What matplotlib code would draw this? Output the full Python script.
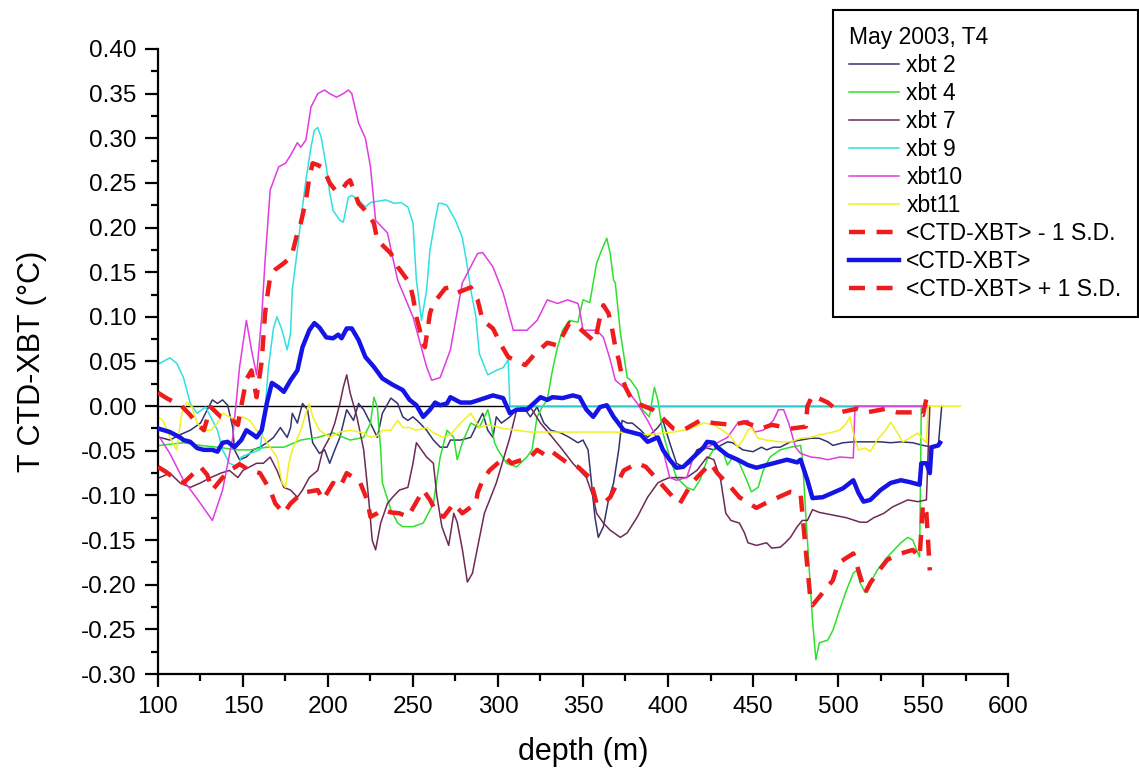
import numpy as np
import matplotlib
matplotlib.use("Agg")
import matplotlib.pyplot as plt
from matplotlib.ticker import MultipleLocator, FormatStrFormatter

plt.rcParams['font.family'] = ['Liberation Sans', 'DejaVu Sans']

# depth (m) / temperature difference (degC)
xbt2_x = [101, 107, 113, 119, 125, 129, 132, 135, 138, 141,
          144, 145, 148, 152, 156, 160, 164, 168, 172, 176,
          178, 179, 182, 185, 188, 191, 195, 198, 201, 204,
          207, 211, 215, 218, 221, 225, 229, 232, 237, 241,
          244, 247, 250, 254, 258, 262, 266, 270, 272, 278,
          284, 288, 291, 294, 297, 299, 302, 307, 311, 315,
          319, 323, 327, 331, 337, 342, 347, 350, 353, 355,
          357, 359, 362, 365, 368, 371, 373, 376, 379, 384,
          388, 394, 397, 401, 405, 409, 413, 417, 421, 427,
          431, 435, 438, 444, 450, 455, 458, 462, 466, 472,
          478, 484, 489, 494, 497, 503, 509, 517, 525, 531,
          537, 544, 550, 556, 559, 561]
xbt2_y = [-0.035, -0.038, -0.032, -0.027, -0.019, -0.004, 0.007, 0.003, 0.007, 0.001,
          -0.024, -0.049, -0.060, -0.057, -0.049, -0.046, -0.041, -0.035, -0.024, -0.035,
          -0.024, -0.008, -0.019, 0.003, -0.004, -0.041, -0.053, -0.049, -0.064, -0.049,
          -0.035, -0.004, -0.016, 0.003, -0.004, -0.019, -0.035, -0.008, 0.009, 0.003,
          -0.012, -0.016, -0.012, -0.019, -0.027, -0.038, -0.046, -0.046, -0.038, -0.038,
          -0.035, -0.019, -0.008, -0.027, -0.035, -0.012, -0.019, -0.012, -0.004, -0.001,
          -0.012, -0.001, -0.019, -0.027, -0.030, -0.035, -0.041, -0.038, -0.049, -0.086,
          -0.124, -0.147, -0.135, -0.105, -0.086, -0.049, -0.016, -0.019, -0.019, -0.027,
          -0.035, -0.024, -0.016, -0.041, -0.064, -0.068, -0.064, -0.049, -0.046, -0.049,
          -0.044, -0.040, -0.041, -0.049, -0.051, -0.046, -0.049, -0.046, -0.046, -0.040,
          -0.038, -0.036, -0.036, -0.040, -0.044, -0.041, -0.040, -0.040, -0.040, -0.041,
          -0.040, -0.041, -0.044, -0.046, -0.044, 0.0]

xbt4_x = [101, 115, 125, 135, 147, 154, 164, 174, 184, 194,
          203, 213, 221, 225, 227, 229, 231, 232, 237, 241,
          244, 250, 256, 262, 266, 270, 274, 276, 279, 284,
          289, 294, 295, 298, 300, 305, 311, 317, 320, 323,
          326, 329, 332, 335, 338, 342, 347, 350, 354, 356,
          358, 361, 364, 366, 368, 369, 372, 376, 378, 382,
          385, 389, 392, 394, 397, 401, 405, 411, 415, 419,
          423, 428, 432, 435, 438, 442, 447, 449, 453, 456,
          460, 466, 472, 478, 479, 481, 485, 487, 489, 494,
          497, 501, 505, 509, 511, 513, 516, 519, 523, 529,
          537, 541, 544, 547, 548, 549, 553]
xbt4_y = [-0.044, -0.041, -0.044, -0.046, -0.049, -0.049, -0.046, -0.046, -0.038, -0.035,
          -0.030, -0.038, -0.035, -0.019, 0.010, -0.001, -0.049, -0.086, -0.116, -0.131,
          -0.135, -0.135, -0.131, -0.109, -0.057, -0.027, -0.035, -0.060, -0.041, -0.019,
          -0.024, -0.004, -0.012, -0.041, -0.049, -0.064, -0.068, -0.057, -0.049, -0.012,
          -0.001, 0.007, 0.040, 0.066, 0.085, 0.096, 0.094, 0.119, 0.116, 0.138,
          0.160, 0.175, 0.188, 0.171, 0.141, 0.138, 0.082, 0.032, 0.029, 0.018,
          -0.004, -0.012, 0.021, 0.007, -0.030, -0.057, -0.080, -0.091, -0.094, -0.082,
          -0.060, -0.045, -0.049, -0.066, -0.057, -0.064, -0.086, -0.096, -0.091, -0.072,
          -0.057, -0.049, -0.046, -0.044, -0.057, -0.120, -0.240, -0.284, -0.265, -0.262,
          -0.251, -0.228, -0.206, -0.187, -0.184, -0.198, -0.209, -0.198, -0.184, -0.169,
          -0.153, -0.147, -0.150, -0.165, -0.169, 0.0, 0.0]

xbt7_x = [101, 107, 113, 119, 125, 131, 137, 142, 147, 150,
          154, 158, 162, 166, 170, 174, 178, 182, 185, 189,
          194, 197, 201, 204, 207, 209, 211, 213, 217, 221,
          224, 226, 228, 231, 235, 238, 242, 247, 250, 252,
          255, 258, 262, 264, 267, 271, 274, 276, 279, 282,
          285, 288, 292, 299, 307, 311, 319, 325, 332, 338,
          344, 352, 356, 358, 362, 366, 372, 376, 382, 388,
          394, 397, 401, 411, 417, 423, 427, 431, 434, 437,
          442, 445, 447, 452, 458, 461, 466, 469, 472, 476,
          479, 482, 485, 489, 497, 505, 513, 517, 521, 527,
          532, 541, 547, 552, 554]
xbt7_y = [-0.080, -0.075, -0.086, -0.091, -0.086, -0.080, -0.075, -0.072, -0.080, -0.072,
          -0.068, -0.064, -0.064, -0.057, -0.072, -0.091, -0.094, -0.102, -0.094, -0.080,
          -0.072, -0.049, -0.035, -0.019, 0.003, 0.021, 0.035, 0.015, -0.012, -0.049,
          -0.105, -0.150, -0.161, -0.131, -0.109, -0.102, -0.094, -0.091, -0.064, -0.041,
          -0.049, -0.057, -0.064, -0.100, -0.135, -0.156, -0.120, -0.130, -0.160, -0.197,
          -0.187, -0.158, -0.120, -0.086, -0.035, -0.004, -0.001, -0.019, -0.035, -0.049,
          -0.064, -0.080, -0.102, -0.120, -0.131, -0.139, -0.147, -0.142, -0.124, -0.102,
          -0.086, -0.083, -0.080, -0.080, -0.072, -0.057, -0.060, -0.083, -0.120, -0.128,
          -0.131, -0.142, -0.153, -0.156, -0.153, -0.159, -0.158, -0.153, -0.147, -0.135,
          -0.128, -0.128, -0.116, -0.119, -0.122, -0.125, -0.130, -0.130, -0.125, -0.120,
          -0.113, -0.105, -0.107, -0.105, 0.0]

xbt9_x = [101, 107, 111, 115, 119, 123, 128, 135, 138, 142,
          147, 149, 154, 160, 163, 165, 168, 170, 173, 176,
          178, 179, 182, 184, 187, 190, 192, 194, 196, 199,
          201, 203, 207, 209, 212, 214, 218, 222, 225, 234,
          239, 243, 247, 250, 252, 255, 258, 260, 263, 265,
          267, 270, 275, 279, 282, 284, 287, 289, 294, 299,
          303, 306, 307, 553]
xbt9_y = [0.048, 0.054, 0.048, 0.032, 0.003, -0.008, -0.001, -0.027, -0.049, -0.064,
          -0.068, -0.057, -0.053, -0.049, -0.004, 0.044, 0.088, 0.100, 0.085, 0.063,
          0.082, 0.130, 0.175, 0.208, 0.253, 0.290, 0.309, 0.312, 0.301, 0.268,
          0.239, 0.219, 0.208, 0.206, 0.234, 0.236, 0.231, 0.223, 0.228, 0.231,
          0.227, 0.228, 0.223, 0.205, 0.141, 0.096, 0.130, 0.175, 0.208, 0.227,
          0.227, 0.225, 0.208, 0.189, 0.156, 0.130, 0.100, 0.059, 0.035, 0.040,
          0.043, 0.052, 0.0, 0.0]

xbt10_x = [101, 107, 115, 125, 132, 138, 144, 148, 152, 155,
           158, 161, 163, 166, 171, 175, 178, 182, 184, 187,
           190, 194, 198, 201, 205, 209, 212, 214, 218, 222,
           225, 228, 232, 235, 238, 241, 250, 258, 261, 266,
           272, 279, 288, 291, 297, 303, 309, 317, 323, 329,
           335, 341, 347, 348, 350, 358, 362, 366, 369, 376,
           382, 388, 397, 401, 405, 411, 415, 423, 429, 435,
           441, 447, 451, 456, 462, 465, 468, 471, 475, 478,
           484, 489, 494, 501, 509, 510, 553]
xbt10_y = [-0.035, -0.053, -0.083, -0.109, -0.128, -0.094, -0.035, 0.044, 0.096, 0.063,
           0.035, 0.100, 0.163, 0.242, 0.268, 0.272, 0.281, 0.295, 0.290, 0.298,
           0.335, 0.350, 0.354, 0.350, 0.346, 0.350, 0.354, 0.350, 0.317, 0.300,
           0.268, 0.208, 0.200, 0.194, 0.167, 0.141, 0.100, 0.044, 0.029, 0.032,
           0.063, 0.138, 0.171, 0.172, 0.156, 0.127, 0.085, 0.085, 0.096, 0.119,
           0.115, 0.119, 0.115, 0.108, 0.085, 0.085, 0.077, 0.052, 0.029, 0.018,
           0.003, -0.016, -0.049, -0.080, -0.083, -0.080, -0.057, -0.046, -0.041, -0.035,
           -0.019, -0.016, -0.029, -0.027, -0.016, -0.004, -0.004, -0.019, -0.046, -0.053,
           -0.057, -0.058, -0.060, -0.057, -0.058, 0.0, 0.0]

xbt11_x = [100, 103, 107, 111, 114, 117, 120, 123, 127, 131,
           135, 138, 142, 147, 150, 154, 158, 162, 167, 170,
           173, 175, 177, 179, 184, 187, 189, 191, 195, 201,
           207, 213, 221, 225, 229, 232, 237, 241, 244, 248,
           252, 258, 262, 268, 272, 278, 284, 289, 295, 303,
           311, 319, 329, 338, 348, 358, 368, 378, 388, 397,
           403, 409, 415, 421, 427, 432, 437, 441, 444, 447,
           449, 453, 458, 466, 472, 478, 484, 489, 495, 501,
           505, 507, 509, 512, 516, 519, 523, 528, 531, 535,
           538, 542, 547, 549, 552, 553, 572]
xbt11_y = [-0.012, -0.016, -0.035, -0.049, -0.008, 0.004, -0.001, -0.019, -0.027, -0.027,
           -0.019, -0.008, -0.012, -0.016, -0.012, -0.016, -0.027, -0.035, -0.049, -0.057,
           -0.086, -0.091, -0.064, -0.049, -0.027, -0.008, 0.003, -0.012, -0.027, -0.035,
           -0.029, -0.027, -0.030, -0.035, -0.033, -0.027, -0.027, -0.016, -0.024, -0.024,
           -0.027, -0.024, -0.030, -0.035, -0.032, -0.019, -0.008, -0.024, -0.021, -0.025,
           -0.027, -0.029, -0.029, -0.029, -0.029, -0.029, -0.029, -0.030, -0.032, -0.030,
           -0.029, -0.027, -0.024, -0.019, -0.021, -0.027, -0.034, -0.046, -0.038, -0.027,
           -0.024, -0.036, -0.038, -0.040, -0.040, -0.036, -0.035, -0.032, -0.030, -0.027,
           -0.019, -0.012, -0.030, -0.049, -0.047, -0.051, -0.038, -0.027, -0.018, -0.030,
           -0.040, -0.036, -0.030, -0.035, -0.041, 0.0, 0.0]

minus_sd_x = [100, 105, 111, 115, 125, 129, 132, 138, 144, 148,
              154, 160, 166, 169, 174, 178, 182, 185, 194, 197,
              203, 207, 211, 215, 219, 223, 225, 229, 232, 237,
              242, 247, 256, 260, 264, 268, 274, 279, 287, 288,
              291, 295, 304, 308, 319, 323, 328, 331, 341, 347,
              354, 358, 362, 366, 371, 374, 382, 387, 395, 403,
              407, 414, 417, 425, 429, 437, 442, 452, 457, 465,
              472, 478, 479, 484, 485, 491, 497, 500, 509, 516,
              519, 523, 529, 537, 544, 548, 550, 552, 554]
minus_sd_y = [-0.068, -0.074, -0.083, -0.086, -0.068, -0.077, -0.094, -0.080, -0.070, -0.065,
              -0.072, -0.075, -0.094, -0.109, -0.120, -0.109, -0.102, -0.097, -0.094, -0.105,
              -0.086, -0.091, -0.075, -0.080, -0.086, -0.105, -0.124, -0.120, -0.116, -0.119,
              -0.120, -0.124, -0.094, -0.105, -0.120, -0.124, -0.109, -0.120, -0.109, -0.097,
              -0.083, -0.072, -0.057, -0.064, -0.057, -0.049, -0.055, -0.050, -0.064, -0.068,
              -0.080, -0.109, -0.109, -0.102, -0.083, -0.072, -0.064, -0.068, -0.085, -0.102,
              -0.109, -0.086, -0.080, -0.064, -0.075, -0.091, -0.102, -0.114, -0.109, -0.102,
              -0.096, -0.098, -0.120, -0.221, -0.223, -0.209, -0.195, -0.176, -0.165, -0.209,
              -0.198, -0.187, -0.172, -0.165, -0.161, -0.169, -0.110, -0.120, -0.184]

mean_x = [100, 107, 113, 115, 119, 123, 127, 132, 135, 138,
          141, 145, 149, 152, 156, 158, 161, 164, 167, 171,
          174, 178, 182, 185, 189, 192, 195, 199, 203, 206,
          208, 211, 214, 218, 222, 227, 232, 238, 244, 248,
          252, 256, 260, 263, 266, 270, 272, 278, 284, 289,
          297, 303, 307, 311, 317, 321, 325, 329, 332, 338,
          344, 348, 352, 356, 360, 364, 368, 374, 378, 384,
          388, 394, 397, 401, 405, 409, 415, 421, 423, 427,
          429, 435, 441, 447, 452, 458, 464, 470, 476, 478,
          482, 485, 491, 497, 503, 509, 512, 515, 519, 525,
          531, 537, 542, 548, 549, 552, 554, 555, 559, 560]
mean_y = [-0.025, -0.029, -0.035, -0.038, -0.040, -0.047, -0.049, -0.049, -0.051, -0.041,
          -0.040, -0.046, -0.038, -0.027, -0.032, -0.035, -0.027, 0.003, 0.026, 0.021,
          0.016, 0.029, 0.040, 0.066, 0.085, 0.093, 0.088, 0.077, 0.076, 0.080,
          0.076, 0.087, 0.087, 0.074, 0.055, 0.044, 0.031, 0.024, 0.018, 0.007,
          0.001, -0.012, -0.004, 0.004, 0.001, 0.003, 0.010, 0.004, 0.004, 0.007,
          0.012, 0.009, -0.008, -0.004, -0.004, 0.003, 0.010, 0.007, 0.010, 0.009,
          0.012, 0.010, -0.004, -0.012, -0.001, 0.001, -0.012, -0.027, -0.029, -0.032,
          -0.040, -0.035, -0.049, -0.060, -0.069, -0.068, -0.057, -0.046, -0.040, -0.041,
          -0.046, -0.055, -0.060, -0.066, -0.069, -0.066, -0.063, -0.060, -0.063, -0.060,
          -0.083, -0.103, -0.102, -0.097, -0.092, -0.083, -0.097, -0.107, -0.105, -0.094,
          -0.086, -0.083, -0.085, -0.088, -0.064, -0.064, -0.075, -0.046, -0.044, -0.041]

plus_sd_x = [100, 105, 114, 119, 123, 127, 131, 137, 144, 147,
             149, 152, 155, 158, 161, 162, 163, 164, 166, 169,
             174, 177, 179, 182, 184, 187, 189, 191, 194, 197,
             201, 205, 208, 211, 213, 218, 222, 227, 229, 237,
             241, 248, 250, 252, 254, 255, 257, 260, 262, 269,
             272, 276, 284, 288, 291, 297, 302, 306, 316, 321,
             329, 335, 342, 348, 354, 357, 360, 362, 365, 367,
             369, 371, 373, 375, 378, 382, 391, 394, 403, 409,
             419, 427, 438, 445, 455, 461, 473, 481, 482, 485,
             494, 501, 511, 517, 528, 535, 545, 550, 553]
plus_sd_y = [0.015, 0.009, 0.000, -0.010, -0.020, -0.027, -0.001, -0.012, -0.016, -0.021,
             0.000, 0.030, 0.040, 0.010, 0.050, 0.077, 0.104, 0.119, 0.145, 0.153,
             0.160, 0.165, 0.171, 0.194, 0.205, 0.230, 0.256, 0.272, 0.270, 0.267,
             0.250, 0.240, 0.242, 0.250, 0.253, 0.227, 0.219, 0.205, 0.186, 0.171,
             0.156, 0.138, 0.122, 0.100, 0.085, 0.074, 0.066, 0.104, 0.115, 0.132,
             0.133, 0.127, 0.133, 0.119, 0.096, 0.087, 0.068, 0.055, 0.046, 0.057,
             0.071, 0.068, 0.093, 0.087, 0.077, 0.072, 0.100, 0.113, 0.104, 0.088,
             0.066, 0.052, 0.032, 0.021, 0.010, 0.003, -0.004, -0.008, -0.025, -0.027,
             -0.016, -0.019, -0.021, -0.018, -0.025, -0.021, -0.025, -0.023, 0.000, 0.012,
             0.004, -0.007, -0.003, -0.007, -0.003, -0.007, -0.007, -0.010, 0.018]

thin_series = [
    ("xbt 2", xbt2_x, xbt2_y, "#34346e"),
    ("xbt 4", xbt4_x, xbt4_y, "#2ee02e"),
    ("xbt 7", xbt7_x, xbt7_y, "#6e2a55"),
    ("xbt 9", xbt9_x, xbt9_y, "#30e0e0"),
    ("xbt10", xbt10_x, xbt10_y, "#e03ce0"),
    ("xbt11", xbt11_x, xbt11_y, "#f2f01e"),
]

fig = plt.figure(figsize=(11.39, 7.81), dpi=100)
ax = fig.add_axes([0.1387, 0.137, 0.7463, 0.8003])

# zero reference line under the profiles
ax.hlines(0, xbt2_x[0] - 1, xbt9_x[-1], color="black", lw=1.0, zorder=1)

for name, xs, ys, col in thin_series:
    ax.plot(xs, ys, color=col, lw=1.1, label=name, zorder=2)

red = "#ee1c1c"
ax.plot(minus_sd_x, minus_sd_y, color=red, lw=3.2, dashes=(3.6, 2.6),
        label="<CTD-XBT> - 1 S.D.", zorder=3)
ax.plot(mean_x, mean_y, color="#1414e6", lw=3.2, label="<CTD-XBT>", zorder=4)
ax.plot(plus_sd_x, plus_sd_y, color=red, lw=3.2, dashes=(3.6, 2.6),
        label="<CTD-XBT> + 1 S.D.", zorder=3)

ax.set_xlim(100, 600)
ax.set_ylim(-0.30, 0.40)
ax.xaxis.set_major_locator(MultipleLocator(50))
ax.xaxis.set_minor_locator(MultipleLocator(25))
ax.yaxis.set_major_locator(MultipleLocator(0.05))
ax.yaxis.set_minor_locator(MultipleLocator(0.025))
ax.yaxis.set_major_formatter(FormatStrFormatter("%.2f"))

for s in ("top", "right"):
    ax.spines[s].set_visible(False)
for s in ("left", "bottom"):
    ax.spines[s].set_linewidth(1.6)

ax.tick_params(which="major", direction="out", length=9.5, width=1.6,
               labelsize=17.5, pad=6)
ax.tick_params(which="minor", direction="out", length=5, width=1.6)

ax.set_xlabel("depth (m)", fontsize=22, labelpad=14)
ax.set_ylabel("T CTD-XBT (°C)", fontsize=22, labelpad=24)

leg = ax.legend(title="May 2003, T4", loc="upper left",
                bbox_to_anchor=(833 / 1139, 1 - 10 / 781),
                bbox_transform=fig.transFigure, fontsize=16.5, title_fontsize=16.5,
                frameon=True, fancybox=False, framealpha=1, edgecolor="black",
                handlelength=2.2, handletextpad=0.3, labelspacing=0.22,
                borderpad=0.7, borderaxespad=0, alignment="left")
leg.get_frame().set_linewidth(1.5)

fig.savefig("out.png", dpi=100)
